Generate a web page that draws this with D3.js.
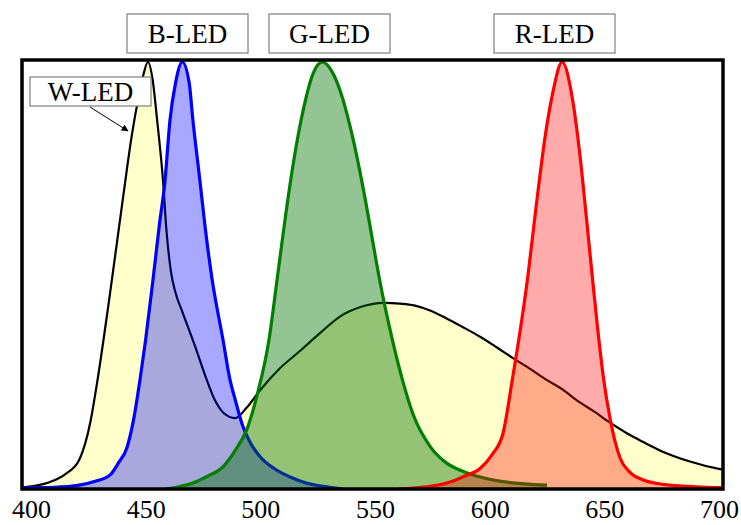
<!DOCTYPE html>
<html>
<head>
<meta charset="utf-8">
<script src="https://cdn.jsdelivr.net/npm/d3@7"></script>
<style>
	body { margin: 0; background: #fff; }
	text { font-family: "Liberation Serif", "Times New Roman", serif; }
</style>
</head>
<body>
<div id="chart"></div>
<script>
// spectra (wavelength in nm, relative intensity 0..1)
var wWave = [398, 408, 415, 421, 426, 429, 434, 440, 444, 447, 449, 451, 453, 455, 457.6, 459, 461, 463, 466, 471.5, 476, 480, 484, 489, 494, 500, 508, 517, 526, 535, 543, 554, 561, 567, 574, 581, 588, 596, 603, 610, 618, 625, 631, 639, 646, 652, 660, 667, 674, 687, 700, 702];
var wVal  = [0.005, 0.016, 0.035, 0.068, 0.16, 0.255, 0.44, 0.677, 0.83, 0.92, 0.97, 1.0, 0.96, 0.864, 0.72, 0.61, 0.51, 0.46, 0.415, 0.335, 0.265, 0.21, 0.178, 0.166, 0.19, 0.232, 0.28, 0.322, 0.365, 0.405, 0.425, 0.436, 0.434, 0.43, 0.418, 0.40, 0.38, 0.356, 0.332, 0.307, 0.28, 0.255, 0.236, 0.204, 0.18, 0.157, 0.13, 0.11, 0.091, 0.065, 0.047, 0.045];

var bWave = [396, 410, 421, 428, 434.5, 438, 441.9, 445, 447.5, 450, 453.2, 456, 458.4, 460.6, 463, 466, 469, 470.6, 473.7, 476, 479, 483.7, 486.8, 489, 492.5, 496, 500, 506, 513, 520, 529, 536];
var bVal  = [0.003, 0.004, 0.009, 0.018, 0.033, 0.06, 0.098, 0.17, 0.255, 0.35, 0.49, 0.62, 0.72, 0.864, 0.95, 1.0, 0.95, 0.864, 0.72, 0.61, 0.49, 0.35, 0.255, 0.21, 0.145, 0.105, 0.075, 0.048, 0.028, 0.014, 0.005, 0];

var gWave = [459, 465, 470.6, 477, 483.7, 489, 494, 498.6, 503.8, 507.3, 511, 514, 519, 523, 527, 531, 535, 540, 545, 549, 552, 558, 562, 566.6, 574, 581.4, 588, 595.8, 605, 615, 625];
var gVal  = [0, 0.006, 0.014, 0.03, 0.052, 0.09, 0.138, 0.22, 0.35, 0.49, 0.64, 0.75, 0.895, 0.973, 1.0, 0.98, 0.93, 0.83, 0.70, 0.58, 0.49, 0.34, 0.255, 0.175, 0.1, 0.06, 0.042, 0.028, 0.018, 0.012, 0.009];

var rWave = [560, 566.6, 574, 581.4, 589, 595.8, 601, 605.8, 610, 613, 616.7, 620, 624.6, 627.6, 631.6, 635.9, 639.4, 642, 644.7, 647, 649.5, 652.5, 656.9, 661, 667, 673, 678.7, 690, 702];
var rVal  = [0, 0.002, 0.006, 0.014, 0.03, 0.048, 0.08, 0.13, 0.26, 0.36, 0.5, 0.65, 0.84, 0.93, 1.0, 0.92, 0.78, 0.645, 0.5, 0.38, 0.265, 0.165, 0.072, 0.04, 0.021, 0.013, 0.009, 0.005, 0.003];

var xTicks = [400, 450, 500, 550, 600, 650, 700];

var width = 741, height = 525;
var box = { left: 22, right: 723, top: 60, bottom: 489 };

var svg = d3.select("#chart").append("svg")
	.attr("width", width)
	.attr("height", height);

var x = d3.scaleLinear().domain([400, 700]).range([31, 719]);
var y = d3.scaleLinear().domain([0, 1]).range([box.bottom, 62]);

svg.append("clipPath")
	.attr("id", "plot-clip")
	.append("rect")
	.attr("x", box.left)
	.attr("y", box.top)
	.attr("width", box.right - box.left)
	.attr("height", box.bottom - box.top);

var plot = svg.append("g").attr("clip-path", "url(#plot-clip)");

function pairs(wave, vals) {
	return wave.map(function(w, i) { return [w, vals[i]]; });
}

var area = d3.area()
	.x(function(d) { return x(d[0]); })
	.y0(y(0))
	.y1(function(d) { return y(d[1]); })
	.curve(d3.curveMonotoneX);

var line = d3.line()
	.x(function(d) { return x(d[0]); })
	.y(function(d) { return y(d[1]); })
	.curve(d3.curveMonotoneX);

// drawn in this order so each fill tints the curves behind it
var series = [
	{ data: pairs(wWave, wVal), fill: "#ffffcc", fillOpacity: 1, stroke: "#000", sw: 2.2 },
	{ data: pairs(bWave, bVal), fill: "#0000ff", fillOpacity: 0.34, stroke: "#0000ff", sw: 3.2 },
	{ data: pairs(gWave, gVal), fill: "#007000", fillOpacity: 0.42, stroke: "#007f00", sw: 3.2 },
	{ data: pairs(rWave, rVal), fill: "#ff0000", fillOpacity: 0.33, stroke: "#ff0000", sw: 3.2 }
];

series.forEach(function(s) {
	plot.append("path")
		.datum(s.data)
		.attr("d", area)
		.attr("fill", s.fill)
		.attr("fill-opacity", s.fillOpacity);
	plot.append("path")
		.datum(s.data)
		.attr("d", line)
		.attr("fill", "none")
		.attr("stroke", s.stroke)
		.attr("stroke-width", s.sw)
		.attr("stroke-linejoin", "round");
});

// frame
svg.append("rect")
	.attr("x", box.left)
	.attr("y", box.top)
	.attr("width", box.right - box.left)
	.attr("height", box.bottom - box.top)
	.attr("fill", "none")
	.attr("stroke", "#000")
	.attr("stroke-width", 3.5);

// x axis labels
var xAxis = d3.axisBottom(x)
	.tickValues(xTicks)
	.tickSize(0)
	.tickPadding(11)
	.tickFormat(d3.format("d"));

var gx = svg.append("g")
	.attr("transform", "translate(0," + box.bottom + ")")
	.call(xAxis);
gx.select(".domain").remove();
gx.selectAll("text")
	.attr("font-family", "Liberation Serif, Times New Roman, serif")
	.attr("font-size", 26)
	.attr("fill", "#000");

// label boxes
var labelNames = ["B-LED", "G-LED", "R-LED", "W-LED"];
var labelPos = [[127, 14], [269, 14], [494, 14], [30, 77]];
var labelSize = [[121, 39], [121, 39], [121, 39], [121, 29]];

labelNames.forEach(function(name, i) {
	var g = svg.append("g")
		.attr("transform", "translate(" + labelPos[i][0] + "," + labelPos[i][1] + ")");
	g.append("rect")
		.attr("width", labelSize[i][0])
		.attr("height", labelSize[i][1])
		.attr("fill", "#fff")
		.attr("stroke", "#7f7f7f")
		.attr("stroke-width", 1.2);
	g.append("text")
		.attr("x", labelSize[i][0] / 2)
		.attr("y", labelSize[i][1] / 2 + 9)
		.attr("text-anchor", "middle")
		.attr("font-size", 27)
		.attr("fill", "#000")
		.text(name);
});

// arrow from W-LED label to its curve
svg.append("defs").append("marker")
	.attr("id", "arrowhead")
	.attr("viewBox", "0 0 10 10")
	.attr("refX", 9)
	.attr("refY", 5)
	.attr("markerWidth", 9)
	.attr("markerHeight", 7)
	.attr("markerUnits", "userSpaceOnUse")
	.attr("orient", "auto")
	.append("path")
	.attr("d", "M0,0L10,5L0,10z")
	.attr("fill", "#000");

svg.append("line")
	.attr("x1", 90)
	.attr("y1", 107)
	.attr("x2", 128)
	.attr("y2", 131)
	.attr("stroke", "#000")
	.attr("stroke-width", 1)
	.attr("marker-end", "url(#arrowhead)");
</script>
</body>
</html>
